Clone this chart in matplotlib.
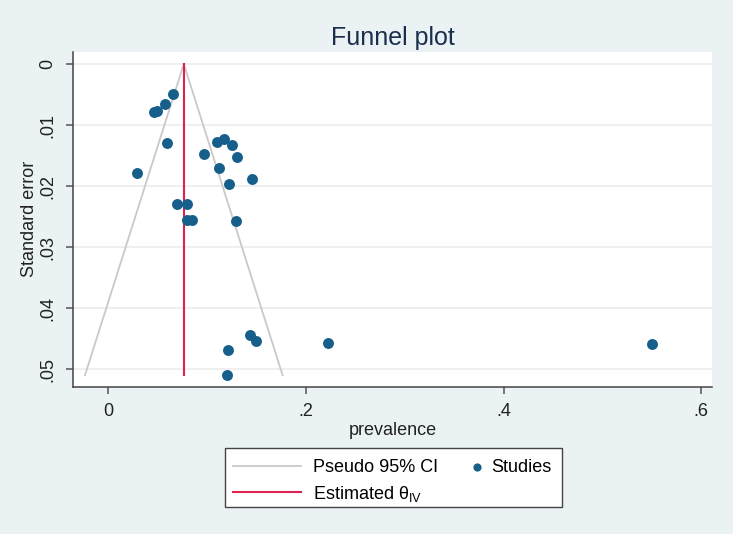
# Funnel plot of prevalence vs standard error (Stata-like look)
import numpy as np
import matplotlib.pyplot as plt
from matplotlib.patches import Rectangle

plt.rcParams['font.family'] = ['Liberation Sans', 'DejaVu Sans']
plt.rcParams['mathtext.fontset'] = 'custom'
plt.rcParams['mathtext.rm'] = 'Liberation Sans'

# study estimates
prevalence = [0.0657, 0.0576, 0.0495, 0.0464, 0.0600, 0.1103, 0.1171, 0.1255,
              0.0965, 0.1299, 0.0296, 0.1120, 0.1457, 0.1218, 0.0694, 0.0799,
              0.0793, 0.0843, 0.1289, 0.1437, 0.1492, 0.1211, 0.1198, 0.2220,
              0.5500]
std_err = [0.00497, 0.00656, 0.00770, 0.00792, 0.01290, 0.01280, 0.01225, 0.01328,
           0.01480, 0.01530, 0.01790, 0.01705, 0.01880, 0.01960, 0.02295, 0.02295,
           0.02552, 0.02552, 0.02574, 0.04443, 0.04546, 0.04693, 0.05103, 0.04570,
           0.04595]
theta = 0.0765

xticks = [0, 0.2, 0.4, 0.6]
xtick_labels = ["0", ".2", ".4", ".6"]
yticks = [0, 0.01, 0.02, 0.03, 0.04, 0.05]
ytick_labels = ["0", ".01", ".02", ".03", ".04", ".05"]

BG = "#eaf2f3"
DOT = "#165f8a"
RED = "#e0204f"
GREY = "#c9c9c9"
W, H = 733, 534

fig = plt.figure(figsize=(7.33, 5.34), dpi=100, facecolor=BG)
ax = fig.add_axes([0.0996, 0.2758, 0.8718, 0.6268])
ax.set_facecolor("white")

# pseudo 95% CI funnel
se_max = max(std_err)
se_line = np.array([0, se_max])
ci_l, = ax.plot(theta - 1.96 * se_line, se_line, color=GREY, lw=1.3, zorder=2)
ax.plot(theta + 1.96 * se_line, se_line, color=GREY, lw=1.3, zorder=2)
est_l, = ax.plot([theta, theta], [0, se_max], color=RED, lw=1.5, zorder=3)
pts = ax.scatter(prevalence, std_err, s=62, color=DOT, zorder=4, linewidths=0)

ax.set_xlim(-0.0356, 0.611)
ax.set_ylim(0.0529, -0.00197)

ax.set_xticks(xticks)
ax.set_xticklabels(xtick_labels)
ax.set_yticks(yticks)
ax.set_yticklabels(ytick_labels, rotation=90, va="center")
ax.tick_params(axis="both", labelsize=13, length=5, width=1.1, color="#555555",
               labelcolor="#222222")
ax.tick_params(axis="x", pad=7)
ax.tick_params(axis="y", pad=7)
ax.grid(axis="y", color="#ececec", lw=1.2, zorder=0)
ax.set_axisbelow(True)

for side in ["top", "right"]:
    ax.spines[side].set_visible(False)
for side in ["left", "bottom"]:
    ax.spines[side].set_color("#444444")
    ax.spines[side].set_linewidth(1.1)

ax.set_xlabel("prevalence", fontsize=13, color="#222222", labelpad=1)
ax.set_ylabel("Standard error", fontsize=13, color="#222222", labelpad=1)
ax.set_title("Funnel plot", fontsize=18, color="#1b2f4d", pad=5)

# legend: frame box + two columns
fig.add_artist(Rectangle((225 / W, 1 - 506.7 / H), 337 / W, 59 / H,
                         transform=fig.transFigure, facecolor="white",
                         edgecolor="#444444", lw=1.0, zorder=1))
leg1 = fig.legend([ci_l, est_l], ["Pseudo 95% CI", r"Estimated θ$_{\mathrm{IV}}$"],
                  loc="upper left", bbox_to_anchor=(232.7 / W, 1 - 459 / H),
                  fontsize=13, frameon=False, borderpad=0, borderaxespad=0,
                  handlelength=3.77, handletextpad=0.65, labelspacing=0.42)
leg2 = fig.legend([pts], ["Studies"], loc="upper left",
                  bbox_to_anchor=(467.6 / W, 1 - 459 / H), fontsize=13,
                  frameon=False, borderpad=0, borderaxespad=0, markerscale=0.75,
                  handlelength=1.0, handletextpad=0.3)
leg1.set_zorder(2)
leg2.set_zorder(2)

plt.savefig("out.png", dpi=100, facecolor=BG)
